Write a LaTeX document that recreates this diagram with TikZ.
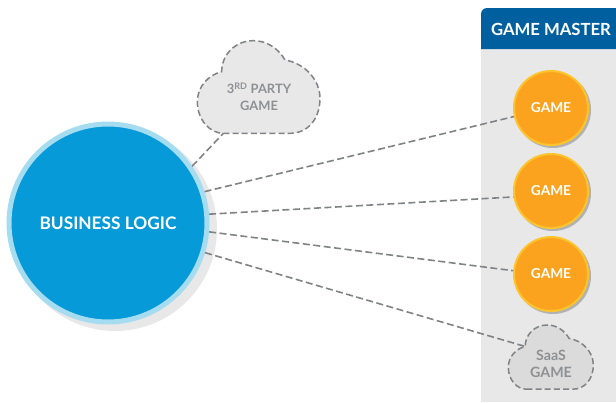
\documentclass[tikz,border=0pt]{standalone}
\usepackage{fontspec}
\setmainfont{Lato}
\definecolor{panelgray}{HTML}{E8E8E8}
\definecolor{headblue}{HTML}{00609F}
\definecolor{bizblue}{HTML}{069AD8}
\definecolor{bizring}{HTML}{A5DCF0}
\definecolor{gameorange}{HTML}{FBA31E}
\definecolor{gamering}{HTML}{FDC42C}
\definecolor{lineGray}{HTML}{808285}
\definecolor{textGray}{HTML}{8E9093}
\tikzset{
  bizcircle/.style={circle,fill=bizblue,draw=bizring,line width=5pt,minimum size=198pt,inner sep=0pt,text=white,font=\bfseries\fontsize{17.3}{20}\selectfont},
  gamecircle/.style={circle,fill=gameorange,draw=gamering,line width=2pt,minimum size=74pt,inner sep=0pt,text=white,font=\bfseries\fontsize{13.7}{16}\selectfont},
  link/.style={draw=lineGray,line width=1.6pt,dash pattern=on 7pt off 3.5pt},
  cloudshape/.style={draw=lineGray,line width=1.5pt,dash pattern=on 6pt off 3.2pt},
  cloudtext/.style={align=center,text=textGray,font=\bfseries\fontsize{#1}{17}\selectfont},
}
\newcommand{\cloudoutline}{(130,310) -- (330,310) .. controls (385,310) and (420,265) .. (420,205) .. controls (420,150) and (375,100) .. (315,90) .. controls (295,55) and (260,32) .. (220,32) .. controls (165,32) and (125,75) .. (125,125) .. controls (85,135) and (52,170) .. (52,215) .. controls (52,270) and (90,310) .. (130,310) -- cycle}
\begin{document}
\begin{tikzpicture}[x=1pt,y=-1pt]
\useasboundingbox (0,0) rectangle (616,402);
% panel
\fill[panelgray] (481,49) rectangle (616,402);
\fill[headblue] (481,49) -- (481,14) .. controls (481,10.7) and (483.7,8) .. (487,8) -- (616,8) -- (616,49) -- cycle;
\node[text=white,font=\bfseries\fontsize{16.7}{19}\selectfont] (master) at (551,29.5) {GAME MASTER};
% shadows
\fill[panelgray] (115,229) circle[radius=102];
\fill[black!30] (553,110) circle[radius=38];
\fill[black!30] (553,193) circle[radius=38];
\fill[black!30] (553,276) circle[radius=38];
% clouds
\begin{scope}[shift={(180,30)},x=0.3333pt,y=-0.3333pt]
  \path[fill=panelgray,cloudshape] \cloudoutline;
  \coordinate (thirdtip) at (130,310);
\end{scope}
\begin{scope}[shift={(496.3,317.6)},x=0.231pt,y=-0.231pt]
  \path[fill=black!14,cloudshape] \cloudoutline;
  \coordinate (saastip) at (125,125);
\end{scope}
\node[cloudtext=12.9] (third) at (259,97) {3\textsuperscript{RD} PARTY\\GAME};
\node[cloudtext=14.2] (saas) at (551,363.5) {SaaS\\GAME};
% main nodes
\node[bizcircle] (biz) at (108,223) {BUSINESS LOGIC};
\node[gamecircle,yshift=0pt] (g1) at (551,108) {\raisebox{-0.8pt}{GAME}};
\node[gamecircle] (g2) at (551,191) {\raisebox{-0.8pt}{GAME}};
\node[gamecircle] (g3) at (551,274) {\raisebox{-0.8pt}{GAME}};
% links
\draw[link] (biz.34.3) -- (thirdtip);
\draw[link] (biz.18.8) -- (g1.193.7);
\draw[link] (biz.5.5) -- (g2.189.7);
\draw[link] (biz.-5.6) -- (g3.175.4);
\draw[link] (biz.-17.2) -- (saastip);
\end{tikzpicture}
\end{document}
